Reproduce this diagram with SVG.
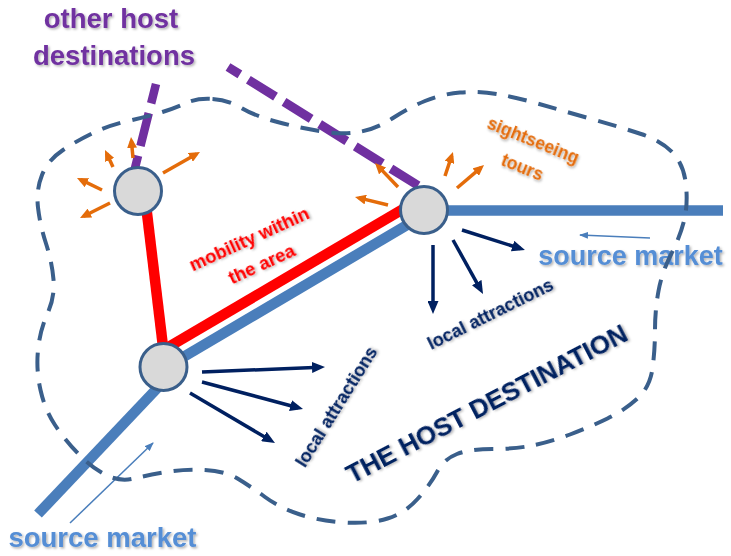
<svg xmlns="http://www.w3.org/2000/svg" width="731" height="556" viewBox="0 0 731 556">
<defs>
<style>
.blue{stroke:#4A7EBB;stroke-width:10.5;fill:none}
.red{stroke:#FF0000;stroke-width:10.5;fill:none}
.purple{stroke:#7030A0;stroke-width:8.5;fill:none}
.outline{stroke:#3A5F8B;stroke-width:4;fill:none;stroke-dasharray:19 12}
.node{fill:#D9D9D9;stroke:#3A5F8B;stroke-width:3}
.oarr{stroke:#E46C0A;stroke-width:3.5;fill:none;marker-end:url(#ohead)}
.narr{stroke:#002060;stroke-width:3.5;fill:none;marker-end:url(#nhead)}
.barr{stroke:#4A7EBB;stroke-width:1.5;fill:none;marker-end:url(#bhead)}
text{font-family:"Liberation Sans",Arial,sans-serif;font-weight:bold}
.t{filter:url(#sh)}
</style>
<filter id="sh" x="-10%" y="-30%" width="120%" height="160%">
<feDropShadow dx="1.5" dy="1.5" stdDeviation="1" flood-color="#000" flood-opacity="0.3"/>
</filter>
<marker id="ohead" viewBox="0 0 11 10" markerWidth="11" markerHeight="10" refX="7" refY="5" orient="auto" markerUnits="userSpaceOnUse"><path d="M0,0 L11,5 L0,10 z" fill="#E46C0A"/></marker>
<marker id="nhead" viewBox="0 0 13 11" markerWidth="13" markerHeight="11" refX="8" refY="5.5" orient="auto" markerUnits="userSpaceOnUse"><path d="M0,0 L13,5.5 L0,11 z" fill="#002060"/></marker>
<marker id="bhead" viewBox="0 0 9 7" markerWidth="9" markerHeight="7" refX="8" refY="3.5" orient="auto" markerUnits="userSpaceOnUse"><path d="M0,0 L9,3.5 L0,7 z" fill="#4A7EBB"/></marker>
</defs>
<rect width="731" height="556" fill="#FFFFFF"/>
<g id="connectors">
<line class="blue" x1="38" y1="514" x2="165" y2="380"/>
<line class="blue" x1="163" y1="369" x2="424" y2="215"/>
<line class="blue" x1="424" y1="210.5" x2="723" y2="210.5"/>
<line class="red" x1="146" y1="205" x2="164" y2="355"/>
<line class="red" x1="160" y1="352" x2="410" y2="205"/>
<line class="purple" x1="156" y1="84" x2="134" y2="172" style="stroke-dasharray:34 10;stroke-dashoffset:14"/>
<line class="purple" x1="228" y1="67" x2="422" y2="188" style="stroke-dasharray:32 10;stroke-dashoffset:18;stroke-width:9"/>
<line class="barr" x1="70" y1="523" x2="153" y2="443"/>
<line class="barr" x1="650" y1="238" x2="580" y2="235"/>
</g>
<g id="labels-behind">
<text class="t" x="630.5" y="265" font-size="27" fill="#558ED5" text-anchor="middle">source market</text>
<text class="t" x="102.5" y="547" font-size="27.5" fill="#558ED5" text-anchor="middle">source market</text>
</g>
<g id="host-destination">
<path class="outline" d="M 212.5,99 Q 228,100 241.5,108 Q 255,116 277.5,122 Q 300,128 322.5,131.5 Q 345,135 361.5,131.5 Q 378,128 393,118 Q 408,108 425,101 Q 442,94 460,92.5 Q 478,91 496.5,94 Q 515,97 537.5,103.5 Q 560,110 590,118.5 Q 620,127 641,134 Q 662,141 673,153 Q 684,165 686,185 Q 688,205 684,221 Q 680,237 671,254.5 Q 662,272 658.5,291 Q 655,310 655,330 Q 655,350 652.5,368.5 Q 650,387 637.5,398.5 Q 625,410 607.5,418.5 Q 590,427 570,434.5 Q 550,442 532.5,445.5 Q 515,449 492.5,449 Q 470,449 457,454 Q 444,459 437,472 Q 430,485 417.5,499 Q 405,513 387.5,518.5 Q 370,524 345,522.5 Q 320,521 300,514.5 Q 280,508 265,497 Q 250,486 237.5,478.5 Q 225,471 205,470 Q 185,469 166.5,472 Q 148,475 134,478.5 Q 120,482 106,475 Q 92,468 78.5,454 Q 65,440 55,425 Q 45,410 40.5,390 Q 36,370 38,350 Q 40,330 47.5,313.5 Q 55,297 53.5,279.5 Q 52,262 46,243.5 Q 40,225 38,207.5 Q 36,190 42,175 Q 48,160 63,150 Q 78,140 94,132.5 Q 110,125 130,120.5 Q 150,116 162.5,112 Q 175,108 186,103 Q 197,98 212.5,99 Z"/>
</g>
<g id="node-a"><circle class="node" cx="138" cy="191" r="23.5"/></g>
<g id="node-b"><circle class="node" cx="424" cy="210" r="23.5"/></g>
<g id="node-c"><circle class="node" cx="163.5" cy="367" r="23.5"/></g>
<g id="arrows">
<line class="oarr" x1="133" y1="158" x2="131.4" y2="141"/>
<line class="oarr" x1="113" y1="167" x2="106.7" y2="153.6"/>
<line class="oarr" x1="102" y1="190" x2="80.6" y2="179.7"/>
<line class="oarr" x1="110" y1="203" x2="83.6" y2="216.2"/>
<line class="oarr" x1="163" y1="173" x2="196.5" y2="154"/>
<line class="oarr" x1="388" y1="205" x2="358.9" y2="197.9"/>
<line class="oarr" x1="398" y1="187" x2="377.8" y2="165.9"/>
<line class="oarr" x1="445" y1="176" x2="451.7" y2="155.8"/>
<line class="oarr" x1="457" y1="188" x2="481" y2="167.6"/>
<line class="narr" x1="462" y1="230" x2="520.2" y2="248.5"/>
<line class="narr" x1="453" y1="240" x2="480.6" y2="289.6"/>
<line class="narr" x1="433" y1="245" x2="433" y2="309"/>
<line class="narr" x1="202" y1="372" x2="320" y2="367.2"/>
<line class="narr" x1="202" y1="382" x2="298.2" y2="407.7"/>
<line class="narr" x1="190" y1="393" x2="270.7" y2="440.5"/>
</g>
<g id="labels">
<text class="t" font-size="27.5" fill="#7030A0" text-anchor="middle"><tspan x="111" y="28">other host</tspan><tspan x="114" y="65">destinations</tspan></text>
<g transform="translate(251.7,244.7) rotate(-24.5)"><text class="t" font-size="18.5" fill="#FF0000" text-anchor="middle"><tspan x="0" y="0">mobility within</tspan><tspan x="1" y="28">the area</tspan></text></g>
<g transform="translate(530.9,145.9) rotate(22)"><text class="t" font-size="17.5" fill="#E46C0A" text-anchor="middle"><tspan x="0" y="0">sightseeing</tspan><tspan x="0" y="29">tours</tspan></text></g>
<text class="t" font-size="18" fill="#002060" text-anchor="middle" transform="translate(341.5,410) rotate(-58)">local attractions</text>
<text class="t" font-size="18" fill="#002060" text-anchor="middle" transform="translate(493,319.5) rotate(-26.3)">local attractions</text>
<text class="t" font-size="26" fill="#002060" text-anchor="middle" transform="translate(490.8,411.7) rotate(-27.5)">THE HOST DESTINATION</text>
</g>
</svg>
